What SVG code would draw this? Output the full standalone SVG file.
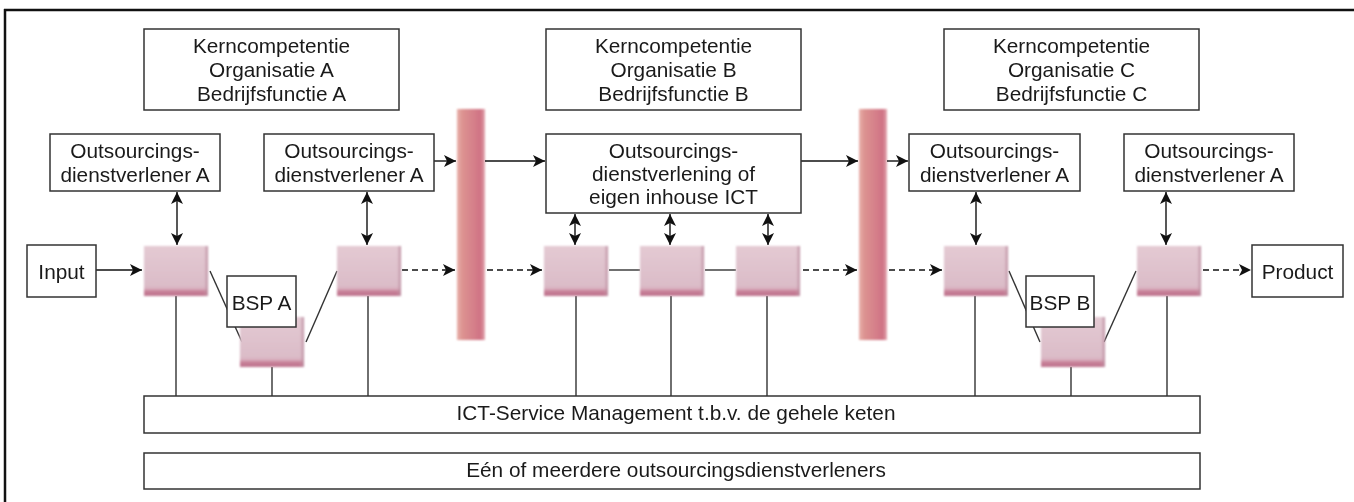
<svg xmlns="http://www.w3.org/2000/svg" width="1354" height="502" viewBox="0 0 1354 502">
<defs>
<style>
.box{fill:#fff;stroke:#333;stroke-width:1.5}
.t{font-family:"Liberation Sans",Arial,sans-serif;font-size:20.8px;fill:#1a1a1a;text-anchor:middle}
.ln{stroke:#333;stroke-width:1.4;fill:none}
.ar{stroke:#111;stroke-width:1.4;fill:none;marker-end:url(#ah)}
.da{stroke:#111;stroke-width:1.4;fill:none;stroke-dasharray:6 4;marker-end:url(#ah)}
.dbl{stroke:#111;stroke-width:1.4;fill:none;marker-start:url(#ahs);marker-end:url(#ah)}
</style>
<marker id="ah" viewBox="0 0 10 10" refX="10" refY="5" markerWidth="12" markerHeight="12" markerUnits="userSpaceOnUse" orient="auto"><path d="M0,0 L10,5 L0,10 L2.5,5 z" fill="#111"/></marker>
<marker id="ahs" viewBox="0 0 10 10" refX="0" refY="5" markerWidth="12" markerHeight="12" markerUnits="userSpaceOnUse" orient="auto"><path d="M10,0 L0,5 L10,10 L7.5,5 z" fill="#111"/></marker>
<linearGradient id="blk" x1="0" y1="0" x2="0" y2="1">
<stop offset="0" stop-color="#e4cad3"/>
<stop offset="0.8" stop-color="#dbbcc8"/>
<stop offset="0.86" stop-color="#d8adbd"/>
<stop offset="0.9" stop-color="#c98299"/>
<stop offset="1" stop-color="#bd728d"/>
</linearGradient>
<linearGradient id="blkR" x1="0" y1="0" x2="1" y2="0">
<stop offset="0" stop-color="#c9a3b2" stop-opacity="0"/>
<stop offset="1" stop-color="#b8869a"/>
</linearGradient>
<linearGradient id="pil" x1="0" y1="0" x2="1" y2="0">
<stop offset="0" stop-color="#e8b0aa"/>
<stop offset="0.2" stop-color="#dc9290"/>
<stop offset="0.6" stop-color="#d57f8a"/>
<stop offset="0.85" stop-color="#cf7284"/>
<stop offset="1" stop-color="#e4a8b0"/>
</linearGradient>
<filter id="soft" x="-10%" y="-10%" width="120%" height="120%"><feGaussianBlur stdDeviation="0.8"/></filter>
<g id="block"><rect x="0" y="0" width="64" height="50" fill="url(#blk)"/><rect x="60" y="0" width="4" height="50" fill="url(#blkR)"/></g>
</defs>

<g id="frame">
<line x1="4" y1="10" x2="1354" y2="10" stroke="#111" stroke-width="2.5"/>
<line x1="5" y1="9" x2="5" y2="502" stroke="#111" stroke-width="2.5"/>
</g>

<g id="pillars" filter="url(#soft)">
<rect x="457" y="109" width="28" height="231" fill="url(#pil)"/>
<rect x="859" y="109" width="28" height="231" fill="url(#pil)"/>
</g>

<g id="connectors">
<line class="ln" x1="210" y1="271" x2="242" y2="342"/>
<line class="ln" x1="337" y1="271" x2="306" y2="342"/>
<line class="ln" x1="1009" y1="271" x2="1040" y2="342"/>
<line class="ln" x1="1136" y1="271" x2="1104" y2="342"/>
<line class="ln" x1="176" y1="296" x2="176" y2="396"/>
<line class="ln" x1="272" y1="367" x2="272" y2="396"/>
<line class="ln" x1="368" y1="296" x2="368" y2="396"/>
<line class="ln" x1="576" y1="296" x2="576" y2="396"/>
<line class="ln" x1="671" y1="296" x2="671" y2="396"/>
<line class="ln" x1="767" y1="296" x2="767" y2="396"/>
<line class="ln" x1="975" y1="296" x2="975" y2="396"/>
<line class="ln" x1="1071" y1="367" x2="1071" y2="396"/>
<line class="ln" x1="1167" y1="296" x2="1167" y2="396"/>
<line class="ln" x1="609" y1="270" x2="640" y2="270"/>
<line class="ln" x1="705" y1="270" x2="736" y2="270"/>
<line class="ar" x1="96" y1="270" x2="142" y2="270"/>
<line class="da" x1="402" y1="270" x2="455" y2="270"/>
<line class="da" x1="487" y1="270" x2="542" y2="270"/>
<line class="da" x1="803" y1="270" x2="857" y2="270"/>
<line class="da" x1="889" y1="270" x2="942" y2="270"/>
<line class="da" x1="1203" y1="270" x2="1251" y2="270"/>
<line class="ar" x1="434" y1="161" x2="456" y2="161"/>
<line class="ar" x1="485" y1="161" x2="545" y2="161"/>
<line class="ar" x1="801" y1="161" x2="858" y2="161"/>
<line class="ar" x1="887" y1="161" x2="908" y2="161"/>
<line class="dbl" x1="177" y1="192" x2="177" y2="245"/>
<line class="dbl" x1="367" y1="192" x2="367" y2="245"/>
<line class="dbl" x1="976" y1="192" x2="976" y2="245"/>
<line class="dbl" x1="1166" y1="192" x2="1166" y2="245"/>
<line class="dbl" x1="575" y1="214" x2="575" y2="245"/>
<line class="dbl" x1="670" y1="214" x2="670" y2="245"/>
<line class="dbl" x1="768" y1="214" x2="768" y2="245"/>
</g>

<g id="blocks" filter="url(#soft)">
<use href="#block" x="144" y="246"/>
<use href="#block" x="240" y="317"/>
<use href="#block" x="337" y="246"/>
<use href="#block" x="544" y="246"/>
<use href="#block" x="640" y="246"/>
<use href="#block" x="736" y="246"/>
<use href="#block" x="944" y="246"/>
<use href="#block" x="1041" y="317"/>
<use href="#block" x="1137" y="246"/>
</g>

<g id="kern-a"><rect class="box" x="144" y="29" width="255" height="81"/>
<text class="t" x="271.5" y="53">Kerncompetentie</text><text class="t" x="271.5" y="77">Organisatie A</text><text class="t" x="271.5" y="101">Bedrijfsfunctie A</text></g>
<g id="kern-b"><rect class="box" x="546" y="29" width="255" height="81"/>
<text class="t" x="673.5" y="53">Kerncompetentie</text><text class="t" x="673.5" y="77">Organisatie B</text><text class="t" x="673.5" y="101">Bedrijfsfunctie B</text></g>
<g id="kern-c"><rect class="box" x="944" y="29" width="255" height="81"/>
<text class="t" x="1071.5" y="53">Kerncompetentie</text><text class="t" x="1071.5" y="77">Organisatie C</text><text class="t" x="1071.5" y="101">Bedrijfsfunctie C</text></g>

<g id="os-a1"><rect class="box" x="50" y="134" width="170" height="57"/>
<text class="t" x="135" y="158">Outsourcings-</text><text class="t" x="135" y="182">dienstverlener A</text></g>
<g id="os-a2"><rect class="box" x="264" y="134" width="170" height="57"/>
<text class="t" x="349" y="158">Outsourcings-</text><text class="t" x="349" y="182">dienstverlener A</text></g>
<g id="os-b"><rect class="box" x="546" y="134" width="255" height="79"/>
<text class="t" x="673.5" y="158">Outsourcings-</text><text class="t" x="673.5" y="181">dienstverlening of</text><text class="t" x="673.5" y="204">eigen inhouse ICT</text></g>
<g id="os-c1"><rect class="box" x="909" y="134" width="171" height="57"/>
<text class="t" x="994.5" y="158">Outsourcings-</text><text class="t" x="994.5" y="182">dienstverlener A</text></g>
<g id="os-c2"><rect class="box" x="1124" y="134" width="170" height="57"/>
<text class="t" x="1209" y="158">Outsourcings-</text><text class="t" x="1209" y="182">dienstverlener A</text></g>

<g id="input"><rect class="box" x="27" y="245" width="69" height="52"/><text class="t" x="61.5" y="279">Input</text></g>
<g id="product"><rect class="box" x="1252" y="245" width="91" height="52"/><text class="t" x="1297.5" y="279">Product</text></g>
<g id="bsp-a"><rect class="box" x="227" y="276" width="69" height="51"/><text class="t" x="261.5" y="310">BSP A</text></g>
<g id="bsp-b"><rect class="box" x="1026" y="276" width="68" height="51"/><text class="t" x="1060" y="310">BSP B</text></g>

<g id="ict"><rect class="box" x="144" y="396" width="1056" height="37"/><text class="t" x="676" y="420">ICT-Service Management t.b.v. de gehele keten</text></g>
<g id="een"><rect class="box" x="144" y="453" width="1056" height="36"/><text class="t" x="676" y="477">Eén of meerdere outsourcingsdienstverleners</text></g>
</svg>
